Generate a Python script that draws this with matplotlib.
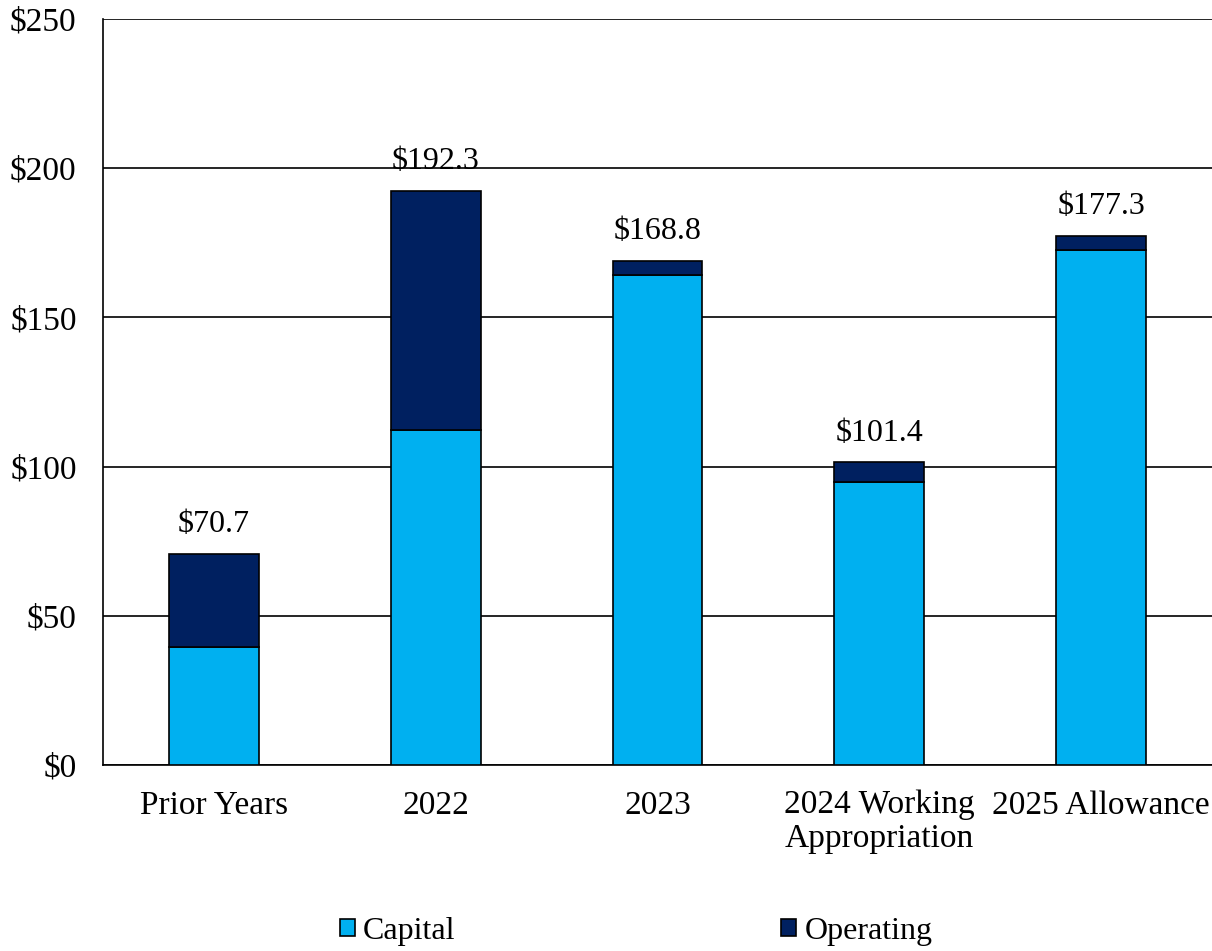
import matplotlib.pyplot as plt
import numpy as np

categories = ["Prior Years", "2022", "2023", "2024 Working\nAppropriation", "2025 Allowance"]
capital = [39.6, 112.3, 164.2, 94.7, 172.6]
operating = [31.1, 80.0, 4.6, 6.7, 4.7]
totals = [70.7, 192.3, 168.8, 101.4, 177.3]

plt.rcParams['font.family'] = ['Liberation Serif', 'DejaVu Serif']
plt.rcParams['font.size'] = 24

fig = plt.figure(figsize=(12.12, 9.51), dpi=100)
ax = fig.add_axes([103 / 1212, 1 - 765 / 951, 1109 / 1212, 746 / 951])

x = np.arange(len(categories))
w = 0.405
ax.bar(x, capital, w, color="#00B0F0", edgecolor="black", linewidth=1.2, label="Capital", zorder=3)
ax.bar(x, operating, w, bottom=capital, color="#002060", edgecolor="black", linewidth=1.2,
       label="Operating", zorder=3)

for xi, t in zip(x, totals):
    ax.text(xi, t + 5, f"${t:.1f}", ha="center", va="bottom", fontsize=23)

ax.set_xlim(-0.5, 4.5)
ax.set_ylim(0, 250)
ax.set_yticks(range(0, 251, 50))
ax.set_yticklabels([f"${v}" for v in range(0, 251, 50)])
ax.set_xticks(x)
ax.set_xticklabels(categories, linespacing=1.12)
ax.tick_params(axis="x", length=0, pad=18)
ax.tick_params(axis="y", length=0, pad=19)
ax.yaxis.grid(True, color="black", linewidth=1.2, zorder=0)
ax.set_axisbelow(True)
for s in ["top", "right"]:
    ax.spines[s].set_visible(False)
ax.spines["left"].set_linewidth(1.2)
ax.spines["bottom"].set_linewidth(1.2)

fig.legend(loc="lower center", bbox_to_anchor=(0.525, -0.025), ncol=2, frameon=False,
           fontsize=23, handlelength=0.47, handleheight=0.47, handletextpad=0.25,
           columnspacing=10.2)

fig.savefig("out.png", dpi=100)
